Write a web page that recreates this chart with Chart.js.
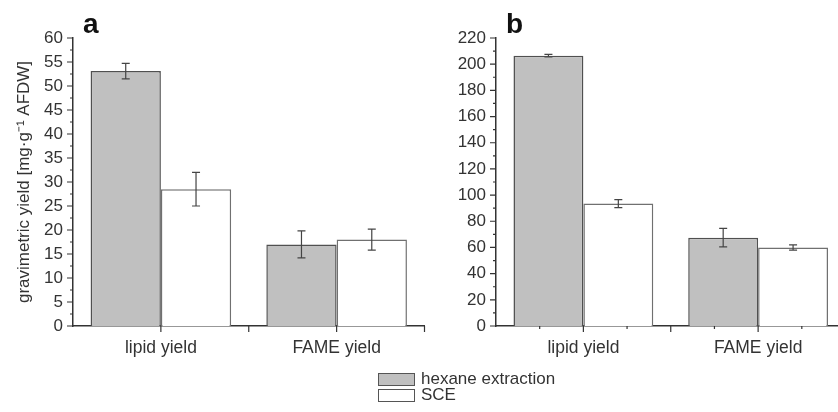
<!DOCTYPE html>
<html>
<head>
<meta charset="utf-8">
<script src="https://cdn.jsdelivr.net/npm/chart.js@4/dist/chart.umd.min.js"></script>
<style>
    html, body { margin: 0; padding: 0; background: #fff; overflow: hidden; }
    body { width: 838px; height: 412px; position: relative; font-family: "Liberation Sans", Arial, sans-serif; }
    #panelA { position: absolute; left: 0; top: 0; }
    #panelB { position: absolute; left: 420px; top: 0; }
    .legend { position: absolute; left: 378px; top: 371px; font-size: 17px; color: #333; line-height: 16px; }
    .legend .row { display: flex; align-items: center; height: 16px; }
    .legend .box { width: 35px; height: 11px; border: 1px solid #555; margin-right: 6px; }
</style>
</head>
<body>
<canvas id="panelA" width="440" height="412"></canvas>
<canvas id="panelB" width="430" height="412"></canvas>
<div class="legend" id="legend"></div>

<script>
// Categories and series
const categories = ['lipid yield', 'FAME yield'];
const seriesNames = ['hexane extraction', 'SCE'];

// Panel a: gravimetric yield [mg/g AFDW]
const hexaneA = [53.1, 17.0];
const hexaneErrA = [1.6, 2.8];
const sceA = [28.5, 18.0];
const sceErrA = [3.5, 2.2];

// Panel b
const hexaneB = [206.5, 67.5];
const hexaneErrB = [1.0, 7.0];
const sceB = [93.5, 60.0];
const sceErrB = [3.0, 2.0];

// Y axis ticks
const yTicksA = [0, 5, 10, 15, 20, 25, 30, 35, 40, 45, 50, 55, 60];
const yTicksB = [0, 20, 40, 60, 80, 100, 120, 140, 160, 180, 200, 220];

const seriesFill = ['#c0c0c0', '#ffffff'];
const seriesBorder = ['#505050', '#707070'];
const axisColor = '#333';
const fontFamily = '"Liberation Sans", Arial, sans-serif';

// Error bars drawn from the dataset's errors array
const errorBarPlugin = {
    id: 'errorBars',
    afterDatasetsDraw(chart) {
        const ctx = chart.ctx;
        const yScale = chart.scales.y;
        ctx.save();
        ctx.strokeStyle = '#444';
        ctx.lineWidth = 1.2;
        chart.data.datasets.forEach((ds, di) => {
            const meta = chart.getDatasetMeta(di);
            meta.data.forEach((bar, i) => {
                const v = ds.data[i];
                const e = ds.errors[i];
                const top = yScale.getPixelForValue(v + e);
                const bottom = yScale.getPixelForValue(v - e);
                ctx.beginPath();
                ctx.moveTo(bar.x, top);
                ctx.lineTo(bar.x, bottom);
                ctx.moveTo(bar.x - 4, top);
                ctx.lineTo(bar.x + 4, top);
                ctx.moveTo(bar.x - 4, bottom);
                ctx.lineTo(bar.x + 4, bottom);
                ctx.stroke();
            });
        });
        ctx.restore();
    }
};

// Major and minor tick marks plus the panel letter
const axisDecorPlugin = {
    id: 'axisDecor',
    afterDraw(chart, args, opts) {
        const ctx = chart.ctx;
        const area = chart.chartArea;
        const x = chart.scales.x;
        const y = chart.scales.y;
        const ticks = opts.yTicks;
        ctx.save();
        ctx.strokeStyle = axisColor;
        ctx.lineWidth = 1.2;
        ctx.beginPath();
        // y ticks: major at labels, minor halfway
        for (let i = 0; i < ticks.length; i++) {
            const py = y.getPixelForValue(ticks[i]);
            ctx.moveTo(area.left - 6, py);
            ctx.lineTo(area.left, py);
            if (i < ticks.length - 1) {
                const pm = y.getPixelForValue((ticks[i] + ticks[i + 1]) / 2);
                ctx.moveTo(area.left - 3, pm);
                ctx.lineTo(area.left, pm);
            }
        }
        // x ticks: category centres and boundaries
        const step = x.getPixelForValue(1) - x.getPixelForValue(0);
        for (let i = 0; i < categories.length; i++) {
            const c = x.getPixelForValue(i);
            ctx.moveTo(c, area.bottom);
            ctx.lineTo(c, area.bottom + 6);
            const b = c + step / 2;
            ctx.moveTo(b, area.bottom);
            ctx.lineTo(b, area.bottom + 6);
            if (opts.xMinor) {
                ctx.moveTo(c - step / 4, area.bottom);
                ctx.lineTo(c - step / 4, area.bottom + 3);
                ctx.moveTo(c + step / 4, area.bottom);
                ctx.lineTo(c + step / 4, area.bottom + 3);
            }
        }
        ctx.stroke();
        // panel letter
        ctx.fillStyle = '#111';
        ctx.font = 'bold 28px ' + fontFamily;
        ctx.textBaseline = 'alphabetic';
        ctx.fillText(opts.letter, area.left + 10, 33);
        ctx.restore();
    }
};

function makePanel(id, letter, hexVals, hexErr, sceVals, sceErr, yTicks, yWidth, padRight, title, xMinor) {
    const ctx = document.getElementById(id).getContext('2d');
    return new Chart(ctx, {
        type: 'bar',
        data: {
            labels: categories,
            datasets: [{
                label: seriesNames[0],
                data: hexVals,
                errors: hexErr,
                backgroundColor: seriesFill[0],
                borderColor: seriesBorder[0],
                borderWidth: 1.5
            }, {
                label: seriesNames[1],
                data: sceVals,
                errors: sceErr,
                backgroundColor: seriesFill[1],
                borderColor: seriesBorder[1],
                borderWidth: 1.5
            }]
        },
        options: {
            responsive: false,
            animation: false,
            devicePixelRatio: 1,
            layout: { padding: { top: 38, bottom: 0, left: 0, right: padRight } },
            plugins: {
                legend: { display: false },
                tooltip: { enabled: false },
                axisDecor: { letter: letter, yTicks: yTicks, xMinor: xMinor }
            },
            datasets: { bar: { categoryPercentage: 0.8, barPercentage: 1.0 } },
            scales: {
                x: {
                    grid: { display: false, drawTicks: false },
                    border: { display: true, color: axisColor, width: 1.5 },
                    ticks: { color: '#333', font: { family: fontFamily, size: 17.5 }, padding: 12 },
                    afterFit: s => { s.height = 86; }
                },
                y: {
                    min: yTicks[0],
                    max: yTicks[yTicks.length - 1],
                    grid: { display: false, drawTicks: false },
                    border: { display: true, color: axisColor, width: 1.5 },
                    ticks: {
                        stepSize: yTicks[1] - yTicks[0],
                        color: '#333',
                        font: { family: fontFamily, size: 17 },
                        padding: 10
                    },
                    title: {
                        display: !!title,
                        text: title,
                        color: '#333',
                        font: { family: fontFamily, size: 17 },
                        padding: { top: 14, bottom: 0 }
                    },
                    afterFit: s => { s.width = yWidth; }
                }
            }
        },
        plugins: [errorBarPlugin, axisDecorPlugin]
    });
}

makePanel('panelA', 'a', hexaneA, hexaneErrA, sceA, sceErrA, yTicksA, 73, 15.5,
    'gravimetric yield [mg\u00B7g\u207B\u00B9 AFDW]', false);
makePanel('panelB', 'b', hexaneB, hexaneErrB, sceB, sceErrB, yTicksB, 76, 4.5, '', true);

// Shared legend below the panels
const legend = document.getElementById('legend');
seriesNames.forEach((name, i) => {
    const row = document.createElement('div');
    row.className = 'row';
    const box = document.createElement('span');
    box.className = 'box';
    box.style.background = seriesFill[i];
    const label = document.createElement('span');
    label.textContent = name;
    row.appendChild(box);
    row.appendChild(label);
    legend.appendChild(row);
});
</script>
</body>
</html>
